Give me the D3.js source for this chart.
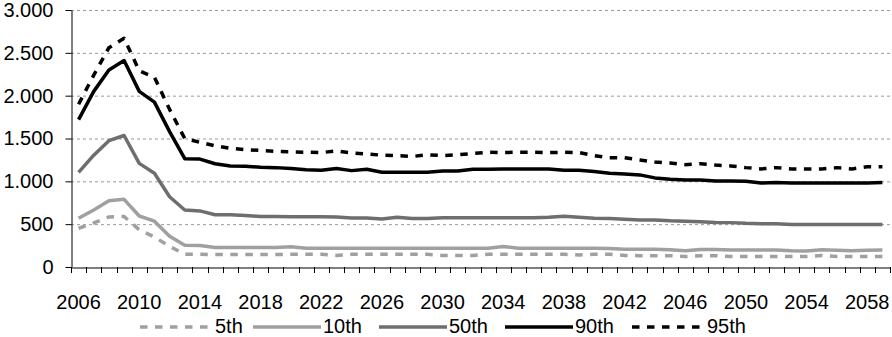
<!DOCTYPE html>
<html><head><meta charset="utf-8">
<script src="https://cdn.jsdelivr.net/npm/d3@7"></script>
<style>
html,body{margin:0;padding:0;background:#fff;}
svg{display:block;font-family:"Liberation Sans",Arial,sans-serif;}
</style></head>
<body><svg id="chart" width="892" height="337"></svg>
<script>
const years = d3.range(2006, 2060);
const tickYears = [2006,2010,2014,2018,2022,2026,2030,2034,2038,2042,2046,2050,2054,2058];
const yTicks = [0,500,1000,1500,2000,2500,3000];
const seriesNames = ["5th","10th","50th","90th","95th"];

const p5 = [452,515,585,590,435,350,240,150,148,145,145,145,145,145,148,148,148,135,148,148,148,148,148,148,135,135,135,148,148,148,148,148,148,140,148,148,135,132,132,132,122,132,132,122,122,122,122,122,122,135,122,122,122,122];
const p10 = [568,666,772,790,595,535,360,255,250,228,228,228,228,228,235,220,220,220,220,220,220,220,220,220,220,220,220,220,240,220,220,220,220,220,220,215,206,206,206,200,191,205,205,198,198,198,198,190,187,200,195,191,195,198];
const p50 = [1105,1305,1475,1535,1210,1095,820,665,655,610,610,600,590,590,588,588,588,585,572,572,560,580,565,565,575,575,575,575,575,575,575,580,592,580,568,565,558,550,550,540,535,528,520,518,510,506,505,495,495,495,495,495,495,495];
const p90 = [1720,2050,2300,2410,2050,1925,1580,1265,1260,1205,1180,1175,1165,1160,1150,1135,1130,1150,1125,1140,1105,1105,1105,1105,1120,1120,1140,1140,1145,1145,1145,1145,1130,1130,1115,1095,1085,1075,1040,1025,1015,1015,1005,1005,1000,980,985,980,980,980,980,980,980,985];
const p95 = [1900,2240,2560,2670,2290,2215,1840,1500,1455,1415,1385,1370,1360,1350,1345,1340,1335,1355,1330,1320,1305,1300,1290,1310,1300,1310,1325,1340,1335,1340,1340,1335,1340,1335,1300,1275,1275,1250,1225,1215,1195,1205,1190,1180,1160,1145,1160,1145,1145,1145,1160,1145,1170,1170];

const seriesValues = [p5,p10,p50,p90,p95];
const styles = [
  {color:"#a0a0a0", dash:"7.5,7.5"},
  {color:"#a0a0a0", dash:null},
  {color:"#6e6e6e", dash:null},
  {color:"#000000", dash:null},
  {color:"#000000", dash:"7.5,7.5"}
];

const svg = d3.select("#chart");
const pLeft = 71, pRight = 890, pTop = 10, pBottom = 267;
const x = d3.scaleBand().domain(years).range([pLeft, pRight]).padding(0);
const y = d3.scaleLinear().domain([0,3000]).range([pBottom, pTop]);
const loc = d3.formatLocale({decimal:",", thousands:".", grouping:[3], currency:["",""]});
const fmt = loc.format(",");

// gridlines
svg.append("g").selectAll("line").data(yTicks.filter(d=>d>0)).join("line")
  .attr("x1", pLeft).attr("x2", pRight)
  .attr("y1", d=>y(d)+0.5).attr("y2", d=>y(d)+0.5)
  .attr("stroke","#999").attr("stroke-width",1).attr("stroke-dasharray","3,3");

// y axis
const yAxis = svg.append("g").attr("transform",`translate(${pLeft+0.5},0)`)
  .call(d3.axisLeft(y).tickValues(yTicks).tickFormat(fmt).tickSize(6).tickPadding(12).tickSizeOuter(0));
yAxis.select(".domain").attr("stroke","#000");
yAxis.selectAll("text").attr("font-size",20).attr("fill","#000").attr("font-family","Liberation Sans, Arial, sans-serif");

// x axis (labels at category centers)
const xAxis = svg.append("g").attr("transform",`translate(0,${pBottom+0.5})`)
  .call(d3.axisBottom(x).tickValues(tickYears).tickSize(0).tickPadding(27).tickSizeOuter(0));
xAxis.select(".domain").attr("stroke","#000");
xAxis.selectAll("text").attr("font-size",20).attr("fill","#000").attr("font-family","Liberation Sans, Arial, sans-serif");

// category boundary tick marks
const bounds = years.map(d=>x(d)).concat([x(years[years.length-1]) + x.bandwidth()]);
svg.append("g").selectAll("line").data(bounds).join("line")
  .attr("x1", d=>Math.round(d)+0.5).attr("x2", d=>Math.round(d)+0.5)
  .attr("y1", pBottom).attr("y2", pBottom+6)
  .attr("stroke","#000").attr("stroke-width",1);

// lines
const line = d3.line().x((d,i)=>x(years[i]) + x.bandwidth()/2).y(d=>y(d));
seriesValues.forEach((vals,k)=>{
  svg.append("path").datum(vals).attr("d", line)
    .attr("fill","none").attr("stroke", styles[k].color)
    .attr("stroke-width",3.5)
    .attr("stroke-dasharray", styles[k].dash)
    .attr("stroke-linejoin","round");
});

// legend
const legX = [140,253,379,505,632];
const lg = svg.append("g");
seriesNames.forEach((name,k)=>{
  lg.append("line").attr("x1",legX[k]).attr("x2",legX[k]+68)
    .attr("y1",327).attr("y2",327)
    .attr("stroke",styles[k].color).attr("stroke-width",3.5)
    .attr("stroke-dasharray",styles[k].dash);
  lg.append("text").attr("x", legX[k] + (styles[k].dash ? 75 : 70)).attr("y",333)
    .attr("font-size",20).attr("fill","#000").text(name);
});
</script></body></html>
